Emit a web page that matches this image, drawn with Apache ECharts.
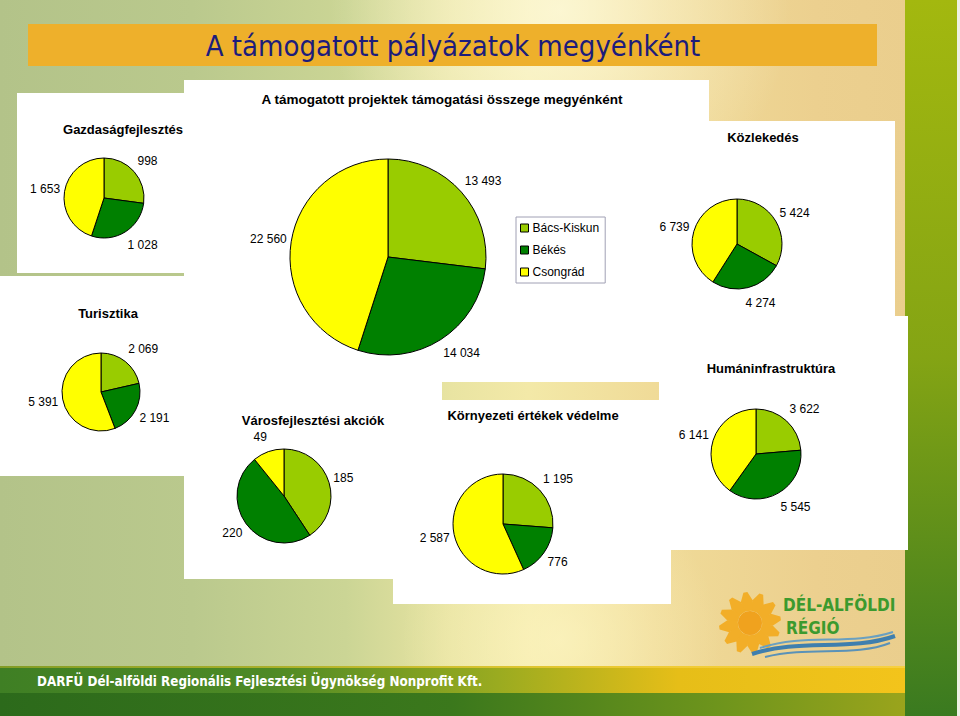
<!DOCTYPE html>
<html><head><meta charset="utf-8">
<script src="https://cdn.jsdelivr.net/npm/echarts@6/dist/echarts.min.js"></script>
<style>html,body{margin:0;padding:0;background:#fff;}#chart{width:960px;height:716px;}</style>
</head><body><div id="chart"></div>
<script>
// ---- data ----
const categories = ['Bács-Kiskun', 'Békés', 'Csongrád'];
const sliceColors = ['#99cc00', '#008000', '#ffff00'];
const totalValues = [13493, 14034, 22560];
const gazdValues = [998, 1028, 1653];
const kozlValues = [5424, 4274, 6739];
const turiValues = [2069, 2191, 5391];
const varosValues = [185, 220, 49];
const kornyValues = [1195, 776, 2587];
const humanValues = [3622, 5545, 6141];
const slideTitle = 'A támogatott pályázatok megyénként';
const mainChartTitle = 'A támogatott projektek támogatási összege megyénként';
const chartTitles = ['Gazdaságfejlesztés', 'Közlekedés', 'Turisztika', 'Városfejlesztési akciók', 'Környezeti értékek védelme', 'Humáninfrastruktúra'];
const footerText = 'DARFÜ Dél-alföldi Regionális Fejlesztési Ügynökség Nonprofit Kft.';
const logoLines = ['DÉL-ALFÖLDI', 'RÉGIÓ'];

// ---- helpers ----
const fmt = v => String(v).replace(/\B(?=(\d{3})+(?!\d))/g, ' ');
const LABEL_FONT = '"Liberation Sans", Arial, sans-serif';

function radialLabel(params) {
  const pts = params.labelLinePoints;
  if (!pts || pts.length < 2) return {};
  const p0 = pts[0], p1 = pts[1];
  let dx = p1[0] - p0[0], dy = p1[1] - p0[1];
  const len = Math.hypot(dx, dy) || 1; dx /= len; dy /= len;
  const w = params.labelRect.width, h = 20;
  const hx = Math.max(-1, Math.min(1, dx * 3));
  return {
    x: p0[0] + dx * 4.5 + hx * w / 2,
    y: p0[1] + dy * 6 + dy * h / 2,
    align: 'center', verticalAlign: 'middle'
  };
}

function pie(name, values, center, radius) {
  return {
    type: 'pie', name, center, radius,
    startAngle: 90, clockwise: true, avoidLabelOverlap: false,
    silent: true, z: 5,
    data: categories.map((c, i) => ({ name: c, value: values[i], itemStyle: { color: sliceColors[i] } })),
    itemStyle: { borderColor: '#000', borderWidth: 1 },
    label: { show: true, position: 'outside', formatter: p => fmt(p.value), fontFamily: LABEL_FONT, fontSize: 12, color: '#000' },
    labelLine: { show: true, length: 10, length2: 0, lineStyle: { opacity: 0 } },
    labelLayout: radialLabel,
    emphasis: { disabled: true }
  };
}

function txt(text, x, y, font, fill, align) {
  return { type: 'text', x, y, z: 20, silent: true,
    style: { text, font, fill, textAlign: align || 'center', textVerticalAlign: 'middle', align: align || 'center', verticalAlign: 'middle' } };
}
function rect(x, y, w, h, fill, z) {
  return { type: 'rect', shape: { x, y, width: w, height: h }, style: { fill }, z: z == null ? 0 : z, silent: true };
}
const lin = (x2, y2, stops) => ({ type: 'linear', x: 0, y: 0, x2, y2, colorStops: stops.map(s => ({ offset: s[0], color: s[1] })) });

// ---- background decoration ----
const bg = [];
bg.push(rect(0, 0, 960, 716, lin(1, 0, [[0, '#b3c389'], [0.2, '#bac98d'], [0.36, '#cbd595'], [0.47, '#e9e4a2'], [0.55, '#f3e9a8'], [0.68, '#f0db98'], [0.85, '#ecd08f'], [1, '#e9cd8c']]), -5));
bg.push({ type: 'circle', shape: { cx: 560, cy: 10, r: 230 }, style: { fill: { type: 'radial', x: 0.5, y: 0.5, r: 0.5, colorStops: [{ offset: 0, color: 'rgba(255,252,225,0.75)' }, { offset: 1, color: 'rgba(255,252,225,0)' }] } }, z: -4, silent: true });
bg.push({ type: 'circle', shape: { cx: 560, cy: 640, r: 160 }, style: { fill: { type: 'radial', x: 0.5, y: 0.5, r: 0.5, colorStops: [{ offset: 0, color: 'rgba(255,248,200,0.6)' }, { offset: 1, color: 'rgba(255,248,200,0)' }] } }, z: -4, silent: true });
// title bar
bg.push(rect(28, 24, 849, 42, '#eeb02b', -3));
// right green strip
bg.push(rect(905, 0, 52, 716, lin(0, 1, [[0, '#a3b80f'], [0.5, '#84a414'], [1, '#3a7a20']]), -3));
bg.push(rect(957, 0, 3, 716, '#eef1e4', -3));
// bottom bands
bg.push(rect(0, 666, 905, 27, lin(1, 0, [[0, '#3f7f24'], [0.3, '#4e8a25'], [0.55, '#9aab20'], [0.75, '#e6be18'], [1, '#f3c41b']]), -3));
bg.push(rect(0, 666, 905, 2, lin(1, 0, [[0, 'rgba(230,200,40,0.4)'], [1, '#f7d040']]), -2));
bg.push(rect(0, 693, 905, 23, lin(1, 0, [[0, '#2c6a1b'], [0.5, '#3b781c'], [0.8, '#6f951c'], [1, '#9aa41c']]), -3));
// white panels
bg.push(rect(17, 93, 190, 180, '#fff', -1));   // Gazdaságfejlesztés
bg.push(rect(184, 80, 525, 302, '#fff', -1));  // main
bg.push(rect(600, 121, 295, 197, '#fff', -1)); // Közlekedés
bg.push(rect(0, 276, 200, 200, '#fff', -1));   // Turisztika
bg.push(rect(184, 300, 258, 279, '#fff', -1)); // Városfejlesztés
bg.push(rect(393, 400, 278, 204, '#fff', -1)); // Környezet
bg.push(rect(659, 316, 249, 234, '#fff', -1)); // Humán
// logo: sun
const petals = [];
for (let i = 0; i < 12; i++) {
  petals.push({ type: 'polygon', rotation: i * Math.PI / 6 + 0.15, shape: { points: [[12, -4], [22, -6], [31, -2], [31, 2], [22, 6], [12, 4]] }, style: { fill: '#f2ae28' }, silent: true });
}
petals.push({ type: 'circle', shape: { cx: 0, cy: 0, r: 12 }, style: { fill: '#f0a21e' }, silent: true });
bg.push({ type: 'group', x: 750, y: 623, z: 1, children: petals });
bg.push({ type: 'bezierCurve', shape: { x1: 752, y1: 654, cpx1: 800, cpy1: 638, cpx2: 850, cpy2: 652, x2: 895, y2: 636 }, style: { stroke: '#3f7fae', lineWidth: 4, fill: null }, z: 1, silent: true });
bg.push({ type: 'bezierCurve', shape: { x1: 760, y1: 648, cpx1: 805, cpy1: 633, cpx2: 850, cpy2: 646, x2: 893, y2: 632 }, style: { stroke: '#6aa0c0', lineWidth: 2, fill: null }, z: 1, silent: true });
bg.push({ type: 'bezierCurve', shape: { x1: 765, y1: 657, cpx1: 810, cpy1: 646, cpx2: 855, cpy2: 657, x2: 890, y2: 643 }, style: { stroke: '#5a92b8', lineWidth: 2, fill: null }, z: 1, silent: true });
bg.push(txt(logoLines[0], 783, 605, 'bold 17px "DejaVu Sans Condensed", sans-serif', '#3c9a2e', 'left'));
bg.push(txt(logoLines[1], 786, 628, 'bold 17px "DejaVu Sans Condensed", sans-serif', '#3c9a2e', 'left'));

// texts
const TF = 'bold 13px "Liberation Sans", Arial, sans-serif';
bg.push(txt(slideTitle, 453, 46, '29px "DejaVu Sans Condensed", sans-serif', '#1c1c7c'));
bg.push(txt(mainChartTitle, 442, 99, 'bold 13.5px "Liberation Sans", Arial, sans-serif', '#000'));
bg.push(txt(chartTitles[0], 123, 129, TF, '#000'));
bg.push(txt(chartTitles[1], 763, 137, TF, '#000'));
bg.push(txt(chartTitles[2], 108, 313, TF, '#000'));
bg.push(txt(chartTitles[3], 313, 420, TF, '#000'));
bg.push(txt(chartTitles[4], 533, 415, TF, '#000'));
bg.push(txt(chartTitles[5], 771, 368, TF, '#000'));
bg.push(txt(footerText, 37, 681, 'bold 13.3px "DejaVu Sans Condensed", sans-serif', '#ffffff', 'left'));

const chart = echarts.init(document.getElementById('chart'), null, { renderer: 'svg' });
chart.setOption({
  animation: false,
  backgroundColor: '#fff',
  graphic: { elements: bg },
  legend: {
    data: categories, orient: 'vertical', left: 516, top: 217,
    padding: [5, 6, 5, 4], itemWidth: 8, itemHeight: 8, itemGap: 10,
    borderColor: '#a0a0b4', borderWidth: 1, backgroundColor: '#fff',
    icon: 'rect', selectedMode: false, z: 10,
    itemStyle: { borderColor: '#000', borderWidth: 1 },
    textStyle: { fontFamily: LABEL_FONT, fontSize: 12, color: '#000', padding: [0, 0, 0, -1] }
  },
  series: [
    pie('Összesen', totalValues, [388, 257], 98),
    pie('Gazdaságfejlesztés', gazdValues, [104, 198], 40),
    pie('Közlekedés', kozlValues, [737, 244], 45),
    pie('Turisztika', turiValues, [101, 392], 39),
    pie('Városfejlesztési akciók', varosValues, [284, 496], 47),
    pie('Környezeti értékek védelme', kornyValues, [503, 524], 50),
    pie('Humáninfrastruktúra', humanValues, [756, 454], 45)
  ]
});
</script></body></html>
